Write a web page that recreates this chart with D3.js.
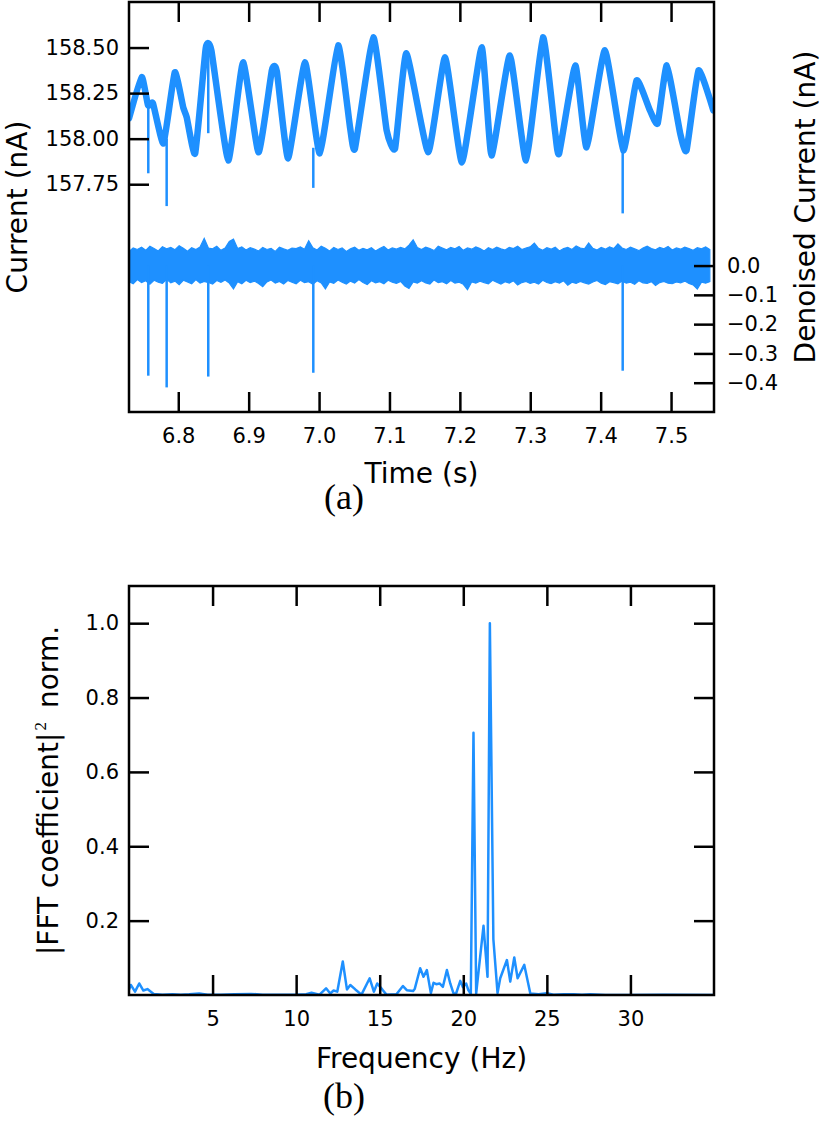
<!DOCTYPE html>
<html><head><meta charset="utf-8">
<script src="https://cdn.jsdelivr.net/npm/d3@7"></script>
<style>
body{margin:0;background:#fff}
svg{display:block}
text{font-family:"DejaVu Sans",sans-serif;fill:#000}
</style>
</head><body>
<svg id="c" width="822" height="1134"></svg>
<script>
// ---------- DATA ----------
// (a) raw current trace, key points (s, nA)
const rawTime = [6.730,6.748,6.757,6.764,6.779,6.795,6.807,6.812,6.824,6.839,6.847,6.871,6.892,6.914,6.933,6.940,6.956,6.980,7.001,7.027,7.044,7.051,7.077,7.096,7.108,7.124,7.155,7.179,7.203,7.231,7.245,7.271,7.294,7.318,7.335,7.341,7.364,7.380,7.406,7.432,7.451,7.470,7.481,7.494,7.513,7.522,7.539,7.560];
const rawCurrent = [158.111,158.338,158.183,158.194,157.974,158.364,158.172,158.117,157.919,158.496,158.485,157.881,158.419,157.925,158.375,158.370,157.892,158.419,157.919,158.512,158.062,157.947,158.556,158.046,157.947,158.469,157.925,158.446,157.870,158.501,157.908,158.457,157.881,158.556,158.046,157.919,158.402,157.952,158.485,157.936,158.320,158.155,158.084,158.402,158.029,157.936,158.375,158.155];
// (a) spikes in the raw trace (s, from nA, to nA)
const rawSpikeTime = [6.7574,6.7835,6.8426,6.9918,7.4313];
const rawSpikeFrom = [158.18,158.00,158.49,157.95,157.95];
const rawSpikeTo   = [157.81,157.63,158.03,157.73,157.59];
// (a) denoised trace: upper / lower envelope samples (pA), sampled from 6.730 s every 5.936 ms
const denoisedStart = 6.730, denoisedStep = 0.005936;
const denoisedHi = [48,60,55,63,52,66,58,50,64,57, 62,54,68,59,49,61,55,63,93,60, 57,66,52,60,82,90,58,64,53,61, 56,50,62,55,59,48,63,57,52,60, 58,64,56,85,61,53,66,59,50,62, 55,60,48,57,63,52,59,54,61,50, 58,65,53,60,56,62,57,70,88,62, 55,63,58,51,66,60,54,62,57,65, 52,60,56,64,58,50,61,55,63,57, 53,62,58,66,55,60,64,77,59,52, 61,56,63,50,58,62,55,67,60,57, 77,59,53,62,56,64,58,74,60,55, 63,57,51,60,66,58,54,62,57,65, 53,60,56,63,58,52,61,57,64,55];
const denoisedLo = [-55,-62,-48,-58,-52,-64,-50,-57,-61,-47, -59,-53,-65,-50,-56,-62,-48,-60,-54,-58, -63,-51,-57,-49,-60,-80,-55,-62,-50,-58, -53,-61,-72,-56,-49,-60,-54,-63,-51,-57, -62,-50,-58,-55,-64,-52,-59,-80,-56,-61, -49,-57,-63,-53,-60,-48,-58,-65,-52,-59, -55,-62,-50,-57,-61,-54,-70,-78,-56,-60, -52,-59,-63,-49,-58,-55,-62,-51,-60,-57, -64,-82,-56,-60,-53,-58,-62,-50,-57,-63, -55,-60,-52,-66,-58,-54,-61,-57,-63,-50, -58,-62,-55,-60,-52,-67,-57,-61,-54,-59, -63,-56,-51,-60,-65,-55,-58,-62,-53,-60, -57,-64,-52,-59,-61,-55,-68,-58,-54,-60, -62,-56,-59,-53,-61,-66,-80,-57,-60,-55];
// (a) spikes in the denoised trace (s, nA)
const denSpikeTime = [6.7574,6.7835,6.8426,6.9918,7.4313];
const denSpikeDepth = [-0.376,-0.416,-0.379,-0.366,-0.359];
// (a) axes
const timeTicks = [6.8,6.9,7.0,7.1,7.2,7.3,7.4,7.5];
const currentTicks = [157.75,158.00,158.25,158.50];
const denoisedTicks = [0.0,-0.1,-0.2,-0.3,-0.4];
// (b) FFT spectrum (Hz, normalised |coef|^2)
const fftFreq = [0.00,0.11,0.36,0.61,0.86,1.10,1.48,2.0,2.6,3.1,3.6,4.2,4.7,5.5,6.3,7.3,8.0,9.0,10.0,10.6,10.92,11.4,11.79,12.04,12.24,12.46,12.79,13.04,13.24,13.54,13.91,14.40,14.65,14.85,15.15,15.40,16.0,16.39,16.62,17.0,17.1,17.42,17.62,17.82,18.06,18.22,18.38,18.58,18.78,19.02,19.22,19.41,19.57,19.82,19.98,20.17,20.30,20.45,20.61,20.77,21.21,21.45,21.59,21.80,22.05,22.21,22.61,22.81,23.05,23.25,23.65,24.01,24.5,25.0,25.4,26.0,26.6,27.1,27.6,28.5,30.0,32.0,35.0];
const fftPower = [0.015,0.027,0.009,0.031,0.012,0.016,0.003,0.001,0.002,0.001,0.002,0.004,0.001,0.001,0.002,0.003,0.001,0.001,0.001,0.002,0.006,0.001,0.018,0.004,0.012,0.009,0.090,0.015,0.027,0.015,0.001,0.045,0.009,0.031,0.015,0.001,0.002,0.024,0.013,0.011,0.017,0.072,0.049,0.067,0.005,0.033,0.029,0.031,0.022,0.067,0.031,0.005,0.004,0.038,0.021,0.031,0.013,0.003,0.705,0.004,0.186,0.049,1.0,0.15,0.005,0.045,0.094,0.036,0.101,0.045,0.081,0.004,0.002,0.005,0.001,0.002,0.002,0.001,0.002,0.0,0.0,0.001,0.0];
const freqTicks = [5,10,15,20,25,30];
const powerTicks = [0.2,0.4,0.6,0.8,1.0];

// ---------- DRAWING ----------
const svg = d3.select("#c");
const blue = "#1E90FF";
const TICK = 20, AXW = 2.5, TFS = 21;

function styleAxis(g){
  g.select(".domain").remove();
  g.selectAll(".tick line").attr("stroke","#000").attr("stroke-width",AXW);
  g.selectAll(".tick text").attr("font-size",TFS).attr("font-family","DejaVu Sans").attr("fill","#000");
}

// ---- Panel (a)
const A = {l:129, r:714, t:2, b:412};
const xA = d3.scaleLinear().domain([6.730,7.561]).range([A.l,A.r]);
const yL = d3.scaleLinear().domain([156.5,158.75]).range([A.b,A.t]);
const yR = d3.scaleLinear().domain([-0.5,0.9]).range([A.b,A.t]);

svg.append("clipPath").attr("id","clipA").append("rect")
  .attr("x",A.l).attr("y",A.t).attr("width",A.r-A.l).attr("height",A.b-A.t);
const gA = svg.append("g").attr("clip-path","url(#clipA)");

// denoised band: filled between upper and lower envelopes
const denIdx = d3.range(denoisedHi.length);
gA.append("path").datum(denIdx)
  .attr("fill",blue).attr("stroke",blue).attr("stroke-width",1.2)
  .attr("d", d3.area()
    .x(i=>xA(denoisedStart + i*denoisedStep))
    .y0(i=>yR(denoisedLo[i]/1000))
    .y1(i=>yR(denoisedHi[i]/1000)));
gA.selectAll("line.ds").data(denSpikeTime).join("line").attr("class","ds")
  .attr("x1",d=>xA(d)).attr("x2",d=>xA(d))
  .attr("y1",yR(0)).attr("y2",(d,i)=>yR(denSpikeDepth[i]))
  .attr("stroke",blue).attr("stroke-width",2.5);

// raw trace
gA.append("path").datum(rawTime.map((t,i)=>[t,rawCurrent[i]]))
  .attr("fill","none").attr("stroke",blue).attr("stroke-width",6.5).attr("stroke-linejoin","round").attr("stroke-linecap","round")
  .attr("d", d3.line().x(d=>xA(d[0])).y(d=>yL(d[1])).curve(d3.curveCardinal.tension(0.55)));
gA.selectAll("line.rs").data(rawSpikeTime).join("line").attr("class","rs")
  .attr("x1",d=>xA(d)).attr("x2",d=>xA(d))
  .attr("y1",(d,i)=>yL(rawSpikeFrom[i])).attr("y2",(d,i)=>yL(rawSpikeTo[i]))
  .attr("stroke",blue).attr("stroke-width",2.5);

// axes (a)
svg.append("g").attr("transform",`translate(0,${A.b})`)
  .call(d3.axisBottom(xA).tickValues(timeTicks).tickFormat(d3.format(".1f")).tickSizeInner(-TICK).tickSizeOuter(0).tickPadding(16))
  .call(styleAxis);
svg.append("g").attr("transform",`translate(0,${A.t})`)
  .call(d3.axisTop(xA).tickValues(timeTicks).tickFormat("").tickSizeInner(-TICK).tickSizeOuter(0))
  .call(styleAxis);
svg.append("g").attr("transform",`translate(${A.l},0)`)
  .call(d3.axisLeft(yL).tickValues(currentTicks).tickFormat(d3.format(".2f")).tickSizeInner(-TICK).tickSizeOuter(0).tickPadding(10))
  .call(styleAxis);
svg.append("g").attr("transform",`translate(${A.r},0)`)
  .call(d3.axisRight(yR).tickValues(denoisedTicks).tickFormat(d3.format(".1f")).tickSizeInner(-TICK).tickSizeOuter(0).tickPadding(13))
  .call(styleAxis);
svg.append("rect").attr("x",A.l).attr("y",A.t).attr("width",A.r-A.l).attr("height",A.b-A.t)
  .attr("fill","none").attr("stroke","#000").attr("stroke-width",AXW);

svg.append("text").attr("x",(A.l+A.r)/2).attr("y",483).attr("text-anchor","middle").attr("font-size",28).text("Time (s)");
svg.append("text").attr("transform",`translate(27,${(A.t+A.b)/2}) rotate(-90)`).attr("text-anchor","middle").attr("font-size",28).text("Current (nA)");
svg.append("text").attr("transform",`translate(815,${(A.t+A.b)/2}) rotate(-90)`).attr("text-anchor","middle").attr("font-size",28).text("Denoised Current (nA)");
svg.append("text").attr("x",344).attr("y",509).attr("text-anchor","middle").attr("font-size",36).style("font-family","'Liberation Serif',serif").text("(a)");

// ---- Panel (b)
const B = {l:129, r:714, t:586, b:995};
const xB = d3.scaleLinear().domain([0,35]).range([B.l,B.r]);
const yB = d3.scaleLinear().domain([0,1.1]).range([B.b,B.t]);
svg.append("clipPath").attr("id","clipB").append("rect")
  .attr("x",B.l).attr("y",B.t).attr("width",B.r-B.l).attr("height",B.b-B.t);
svg.append("g").attr("clip-path","url(#clipB)").append("path")
  .datum(fftFreq.map((f,i)=>[f,fftPower[i]]))
  .attr("fill","none").attr("stroke",blue).attr("stroke-width",2.5).attr("stroke-linejoin","round")
  .attr("d", d3.line().x(d=>xB(d[0])).y(d=>yB(d[1])));

svg.append("g").attr("transform",`translate(0,${B.b})`)
  .call(d3.axisBottom(xB).tickValues(freqTicks).tickFormat(d3.format("d")).tickSizeInner(-TICK).tickSizeOuter(0).tickPadding(16))
  .call(styleAxis);
svg.append("g").attr("transform",`translate(0,${B.t})`)
  .call(d3.axisTop(xB).tickValues(freqTicks).tickFormat("").tickSizeInner(-TICK).tickSizeOuter(0))
  .call(styleAxis);
svg.append("g").attr("transform",`translate(${B.l},0)`)
  .call(d3.axisLeft(yB).tickValues(powerTicks).tickFormat(d3.format(".1f")).tickSizeInner(-TICK).tickSizeOuter(0).tickPadding(10))
  .call(styleAxis);
svg.append("g").attr("transform",`translate(${B.r},0)`)
  .call(d3.axisRight(yB).tickValues(powerTicks).tickFormat("").tickSizeInner(-TICK).tickSizeOuter(0))
  .call(styleAxis);
svg.append("rect").attr("x",B.l).attr("y",B.t).attr("width",B.r-B.l).attr("height",B.b-B.t)
  .attr("fill","none").attr("stroke","#000").attr("stroke-width",AXW);

svg.append("text").attr("x",(B.l+B.r)/2).attr("y",1068).attr("text-anchor","middle").attr("font-size",28).text("Frequency (Hz)");
const yl = svg.append("text").attr("transform",`translate(58,${(B.t+B.b)/2}) rotate(-90)`).attr("text-anchor","middle").attr("font-size",28);
yl.append("tspan").text("|FFT coefficient|");
yl.append("tspan").attr("font-size",17).attr("dy",-12).attr("dx",2).style("font-family","'Liberation Serif',serif").text("2");
yl.append("tspan").attr("dy",12).attr("dx",14).text("norm.");
svg.append("text").attr("x",344).attr("y",1108).attr("text-anchor","middle").attr("font-size",36).style("font-family","'Liberation Serif',serif").text("(b)");
</script>
</body></html>
